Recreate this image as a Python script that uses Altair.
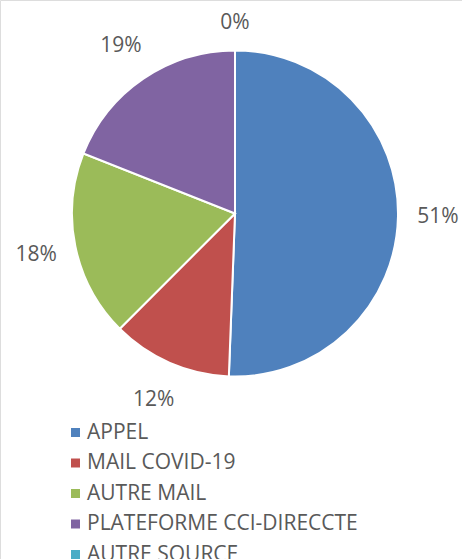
import altair as alt
import pandas as pd

categories = ["APPEL", "MAIL COVID-19", "AUTRE MAIL", "PLATEFORME CCI-DIRECCTE", "AUTRE SOURCE"]
values = [50.6, 11.9, 18.5, 19.0, 0.0]
pct_labels = ["51%", "12%", "18%", "19%", "0%"]
colors = ["#4F81BD", "#C0504D", "#9BBB59", "#8064A2", "#4BACC6"]

df = pd.DataFrame({
    "cat": categories,
    "val": values,
    "lab": pct_labels,
    "ord": list(range(len(categories))),
})

FONT = "Open Sans"
TXT = "#595959"

color = alt.Color(
    "cat:N",
    scale=alt.Scale(domain=categories, range=colors),
    sort=categories,
    legend=alt.Legend(
        title=None,
        orient="none",
        legendX=65,
        legendY=422,
        padding=0,
        symbolType="square",
        symbolSize=81,
        symbolStrokeWidth=0,
        labelFont=FONT,
        labelFontSize=21,
        labelColor=TXT,
        labelOffset=1,
        rowPadding=8.5,
        labelLimit=400,
    ),
)

base = alt.Chart(df).encode(
    theta=alt.Theta("val:Q", stack=True),
    order=alt.Order("ord:Q", sort="ascending"),
    x=alt.value(235),
    y=alt.value(213.5),
)

pie = base.mark_arc(outerRadius=163, stroke="white", strokeWidth=2).encode(color=color)

labels = base.mark_text(radius=203, font=FONT, fontSize=21, color=TXT).encode(
    text="lab:N"
).transform_filter("datum.val > 0")

zero_labels = base.mark_text(radius=191, font=FONT, fontSize=21, color=TXT).encode(
    text="lab:N"
).transform_filter("datum.val <= 0")

chart = (
    alt.layer(pie, labels, zero_labels)
    .properties(width=462, height=559, autosize=alt.AutoSizeParams(type="none"), padding=0)
    .configure_view(stroke=None)
    .configure(background="white")
)

chart.save("out.html", embed_options={"renderer": "svg", "actions": False})
